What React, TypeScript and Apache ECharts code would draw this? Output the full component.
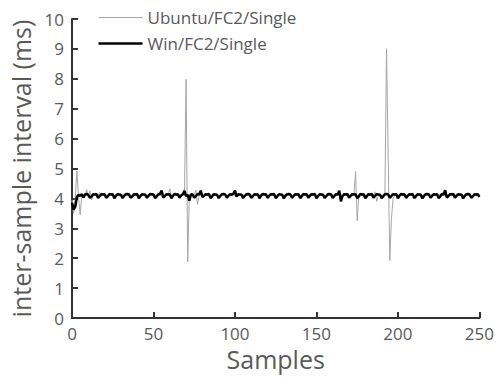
import React, { useEffect, useRef } from "react";
import * as echarts from "echarts";

const xTicks = [0, 50, 100, 150, 200, 250];
const yTicks = [0, 1, 2, 3, 4, 5, 6, 7, 8, 9, 10];
const seriesNames = ["Ubuntu/FC2/Single", "Win/FC2/Single"];
const seriesColors = ["#a6a6a6", "#000000"];
const seriesWidths = [1, 2.5];

const ubuntu = [
  3.95, 3.5, 4.0, 4.92, 4.05, 3.45, 4.1, 4.12, 4.1, 4.3,
  4.05, 4.25, 3.95, 4.1, 4.12, 4.1, 4.11, 4.2, 4.08, 4.1,
  4.12, 4.1, 4.09, 4.11, 4.1, 4.12, 4.1, 4.11, 4.1, 4.09,
  4.1, 4.11, 4.12, 4.1, 4.09, 4.1, 4.11, 4.1, 4.12, 4.1,
  4.1, 4.09, 4.11, 4.1, 4.1, 4.12, 4.1, 4.11, 4.09, 4.1,
  4.11, 4.1, 4.1, 4.12, 4.1, 4.09, 4.11, 4.1, 4.12, 4.1,
  4.32, 4.05, 4.1, 4.11, 4.1, 4.12, 4.1, 4.09, 4.11, 4.1,
  7.98, 1.88, 4.1, 4.12, 4.1, 4.11, 4.28, 3.8, 4.1, 4.12,
  4.1, 4.11, 4.1, 4.09, 4.12, 4.1, 4.11, 4.1, 4.1, 4.12,
  4.1, 4.09, 4.11, 4.1, 4.12, 4.1, 4.1, 4.11, 4.1, 4.09,
  4.12, 4.1, 4.11, 4.1, 4.1, 4.12, 4.1, 4.09, 4.11, 4.1,
  4.1, 4.12, 4.1, 4.11, 4.09, 4.1, 4.12, 4.1, 4.11, 4.1,
  4.1, 4.09, 4.12, 4.1, 4.11, 4.1, 4.1, 4.12, 4.1, 4.09,
  4.11, 4.1, 4.12, 4.1, 4.1, 4.11, 4.1, 4.09, 4.12, 4.1,
  4.1, 4.11, 4.1, 4.12, 4.09, 4.1, 4.11, 4.1, 4.1, 4.12,
  4.1, 4.09, 4.11, 4.1, 4.12, 4.1, 4.1, 4.11, 4.1, 4.09,
  4.12, 4.1, 4.11, 4.1, 4.1, 4.12, 4.1, 4.09, 4.11, 4.1,
  4.1, 4.11, 4.1, 4.12, 4.9, 3.25, 4.1, 4.11, 4.1, 4.09,
  4.1, 4.12, 4.1, 4.11, 4.1, 4.1, 4.22, 3.9, 4.1, 4.11,
  4.1, 4.11, 4.1, 9.0, 5.45, 1.92, 3.3, 4.0, 4.1, 4.12,
  4.1, 4.11, 4.1, 4.09, 4.12, 4.1, 4.11, 4.1, 4.1, 4.12,
  4.1, 4.09, 4.11, 4.1, 4.12, 4.1, 4.1, 4.11, 4.1, 4.09,
  4.12, 4.1, 4.11, 4.1, 4.1, 4.12, 4.1, 4.09, 4.11, 4.1,
  4.1, 4.11, 4.1, 4.12, 4.09, 4.1, 4.11, 4.1, 4.1, 4.12,
  4.1, 4.09, 4.11, 4.1, 4.12, 4.1, 4.1, 4.11, 4.1, 4.09,
  4.1,
];

const win = [
  3.85, 3.62, 3.72, 4.05, 4.12, 4.08, 4.14, 4.03, 4.13, 4.15,
  4.12, 4.02, 4.06, 4.14, 4.13, 4.15, 4.01, 4.08, 4.14, 4.13,
  4.14, 4.02, 4.07, 4.15, 4.13, 4.14, 4.0, 4.09, 4.14, 4.13,
  4.12, 4.01, 4.08, 4.14, 4.15, 4.13, 4.02, 4.06, 4.14, 4.13,
  4.15, 4.0, 4.08, 4.14, 4.13, 4.12, 4.02, 4.09, 4.15, 4.14,
  4.13, 4.01, 4.07, 4.14, 4.15, 4.26, 4.03, 4.08, 4.14, 4.13,
  4.14, 4.0, 4.09, 4.15, 4.13, 4.14, 4.02, 4.1, 4.14, 4.25,
  4.08, 4.12, 3.92, 4.14, 4.13, 4.02, 4.08, 4.15, 4.13, 4.26,
  4.05, 4.08, 4.14, 4.13, 4.15, 4.01, 4.07, 4.14, 4.13, 4.12,
  4.01, 4.08, 4.14, 4.15, 4.13, 4.02, 4.09, 4.14, 4.13, 4.15,
  4.26, 4.06, 4.14, 4.13, 4.12, 4.01, 4.08, 4.14, 4.15, 4.13,
  4.02, 4.07, 4.14, 4.13, 4.14, 4.0, 4.09, 4.15, 4.13, 4.14,
  4.02, 4.08, 4.14, 4.13, 4.15, 4.01, 4.07, 4.14, 4.13, 4.12,
  4.0, 4.09, 4.14, 4.15, 4.13, 4.02, 4.08, 4.14, 4.13, 4.14,
  4.01, 4.07, 4.15, 4.13, 4.14, 4.02, 4.09, 4.14, 4.13, 4.15,
  4.0, 4.08, 4.14, 4.13, 4.12, 4.02, 4.07, 4.14, 4.15, 4.13,
  4.01, 4.08, 4.14, 4.13, 4.26, 3.9, 4.08, 4.14, 4.13, 4.15,
  4.02, 4.09, 4.14, 4.13, 4.14, 4.01, 4.07, 4.15, 4.13, 4.14,
  4.0, 4.08, 4.14, 4.13, 4.15, 4.02, 4.09, 4.14, 4.13, 4.12,
  4.01, 4.07, 4.14, 4.15, 4.13, 4.02, 4.08, 4.14, 4.13, 4.14,
  4.0, 4.09, 4.15, 4.13, 4.14, 4.02, 4.08, 4.14, 4.13, 4.15,
  4.01, 4.07, 4.14, 4.13, 4.12, 4.0, 4.08, 4.14, 4.15, 4.13,
  4.02, 4.09, 4.14, 4.13, 4.14, 4.01, 4.07, 4.15, 4.13, 4.27,
  4.03, 4.08, 4.14, 4.13, 4.15, 4.02, 4.09, 4.14, 4.13, 4.12,
  4.0, 4.08, 4.14, 4.15, 4.13, 4.02, 4.07, 4.14, 4.13, 4.14,
  4.05,
];

const FONT = "Open Sans";
const TEXT = "#595959";
const AXIS = "#333333";

export default function App() {
  const ref = useRef<HTMLDivElement>(null);
  useEffect(() => {
    if (!ref.current) return;
    const chart = echarts.init(ref.current, undefined, { renderer: "svg" });
    const legendGraphic = seriesNames.map((name, i) => ({
      type: "group",
      left: 96,
      top: 9 + i * 26,
      children: [
        {
          type: "line",
          shape: { x1: 0, y1: 10, x2: 44, y2: 10 },
          style: { stroke: seriesColors[i], lineWidth: seriesWidths[i] },
        },
        {
          type: "text",
          x: 49,
          y: 10,
          style: {
            text: name,
            fontFamily: FONT,
            fontSize: 17,
            fill: TEXT,
            verticalAlign: "middle",
          },
        },
      ],
    }));
    chart.setOption({
      animation: false,
      backgroundColor: "#ffffff",
      grid: { left: 72, right: 16, top: 19, bottom: 59, containLabel: false },
      graphic: legendGraphic,
      xAxis: {
        type: "value",
        min: xTicks[0],
        max: xTicks[xTicks.length - 1],
        interval: 50,
        name: "Samples",
        nameLocation: "middle",
        nameGap: 26,
        nameTextStyle: { fontFamily: FONT, fontSize: 25, color: TEXT },
        axisLine: { show: true, onZero: false, lineStyle: { color: AXIS, width: 2 } },
        axisTick: { show: true, inside: true, length: 6, lineStyle: { color: AXIS, width: 2 } },
        axisLabel: { fontFamily: FONT, fontSize: 17, color: TEXT, margin: 7 },
        splitLine: { show: false },
      },
      yAxis: {
        type: "value",
        min: yTicks[0],
        max: yTicks[yTicks.length - 1],
        interval: 1,
        name: "inter-sample interval (ms)",
        nameLocation: "middle",
        nameGap: 38,
        nameTextStyle: { fontFamily: FONT, fontSize: 25, color: TEXT },
        axisLine: { show: true, lineStyle: { color: AXIS, width: 2 } },
        axisTick: { show: true, inside: true, length: 6, lineStyle: { color: AXIS, width: 2 } },
        axisLabel: { fontFamily: FONT, fontSize: 17, color: TEXT, margin: 8 },
        splitLine: { show: false },
      },
      series: [
        {
          name: seriesNames[0],
          type: "line",
          data: ubuntu.map((v, i) => [i, v]),
          symbol: "none",
          lineStyle: { color: seriesColors[0], width: seriesWidths[0] },
          itemStyle: { color: seriesColors[0] },
          z: 2,
        },
        {
          name: seriesNames[1],
          type: "line",
          data: win.map((v, i) => [i, v]),
          symbol: "none",
          lineStyle: { color: seriesColors[1], width: seriesWidths[1] },
          itemStyle: { color: seriesColors[1] },
          z: 3,
        },
      ],
    });
    return () => chart.dispose();
  }, []);
  return (
    <div
      ref={ref}
      style={{ position: "fixed", left: 0, top: 0, width: 497, height: 377 }}
    />
  );
}
